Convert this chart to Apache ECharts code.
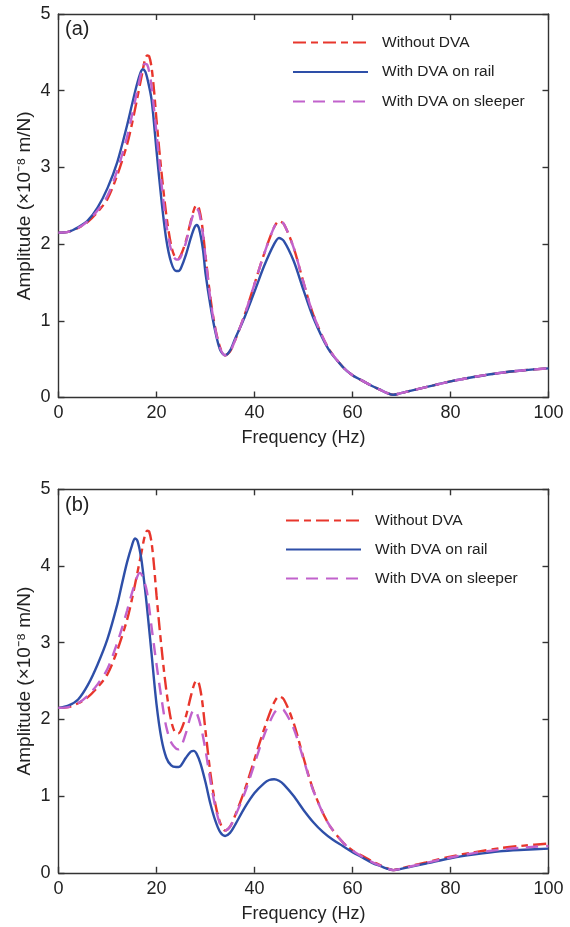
<!DOCTYPE html>
<html>
<head>
<meta charset="utf-8">
<script src="https://cdn.jsdelivr.net/npm/echarts@6/dist/echarts.min.js"></script>
<style>html,body{margin:0;padding:0;background:#fff}#c{width:570px;height:927px}</style>
</head>
<body>
<div id="c"></div>
<script>
// ---------- data (frequency Hz, amplitude x1e-8 m/N) ----------
const seriesNames = ['Without DVA', 'With DVA on rail', 'With DVA on sleeper'];
const xTicks = [0, 20, 40, 60, 80, 100];
const yTicks = [0, 1, 2, 3, 4, 5];

const withoutDVA = [[0,2.15],[2,2.16],[4,2.21],[6,2.29],[8,2.42],[10,2.59],[12,2.9],[14,3.3],[15,3.57],[16,3.88],[17,4.2],[17.6,4.39],[18.1,4.46],[18.5,4.45],[19,4.3],[19.5,4.0],[20,3.62],[21,2.95],[22,2.38],[23,1.98],[23.8,1.83],[24.5,1.82],[25,1.86],[26,2.04],[27,2.3],[27.7,2.46],[28.2,2.51],[28.7,2.46],[29.3,2.25],[30,1.85],[31,1.3],[32,0.9],[33,0.65],[34,0.55],[35,0.6],[36,0.74],[38,1.08],[40,1.48],[42,1.88],[44,2.22],[45,2.30],[46,2.26],[48,1.95],[50,1.5],[52,1.08],[55,0.65],[58,0.4],[60,0.29],[62,0.22],[64,0.15],[66,0.09],[67,0.06],[68.3,0.035],[69.5,0.05],[72,0.09],[75,0.135],[80,0.21],[85,0.27],[90,0.32],[95,0.355],[100,0.38]];

const railA = [[0,2.15],[2,2.16],[4,2.22],[6,2.31],[8,2.48],[10,2.73],[12,3.07],[14,3.55],[15,3.82],[16,4.08],[16.7,4.23],[17.2,4.28],[17.7,4.25],[18.2,4.14],[19,3.88],[20,3.22],[21,2.58],[22,2.06],[23,1.76],[24,1.65],[24.5,1.65],[25,1.69],[26,1.86],[27,2.08],[27.7,2.21],[28.2,2.25],[28.7,2.2],[29.5,1.92],[30,1.62],[31,1.2],[32,0.86],[33,0.62],[34,0.55],[35,0.61],[36,0.76],[38,1.05],[40,1.38],[42,1.72],[44,2.0],[45,2.08],[46,2.04],[48,1.78],[50,1.4],[52,1.04],[55,0.64],[58,0.4],[60,0.29],[62,0.22],[64,0.15],[66,0.09],[67,0.06],[68.3,0.035],[69.5,0.05],[72,0.09],[75,0.135],[80,0.21],[85,0.27],[90,0.32],[95,0.355],[100,0.38]];

const sleeperA = [[0,2.15],[2,2.16],[4,2.21],[6,2.3],[8,2.44],[10,2.63],[12,2.96],[14,3.4],[15,3.68],[16,3.98],[17,4.26],[17.6,4.35],[18.1,4.34],[18.6,4.22],[19,4.05],[20,3.45],[21,2.8],[22,2.26],[23,1.92],[24,1.8],[24.5,1.8],[25,1.84],[26,2.02],[27,2.28],[27.7,2.42],[28.2,2.46],[28.7,2.41],[29.5,2.12],[30,1.83],[31,1.28],[32,0.89],[33,0.64],[34,0.55],[35,0.6],[36,0.74],[38,1.08],[40,1.48],[42,1.88],[44,2.22],[45,2.30],[46,2.26],[48,1.95],[50,1.5],[52,1.08],[55,0.65],[58,0.4],[60,0.29],[62,0.22],[64,0.15],[66,0.09],[67,0.06],[68.3,0.035],[69.5,0.05],[72,0.09],[75,0.135],[80,0.21],[85,0.27],[90,0.32],[95,0.355],[100,0.38]];

const railB = [[0,2.15],[2,2.18],[4,2.26],[6,2.45],[8,2.72],[10,3.05],[12,3.5],[13,3.78],[14,4.05],[15,4.27],[15.6,4.36],[16.1,4.33],[16.6,4.2],[17,4.05],[18,3.5],[19,2.85],[20,2.2],[21,1.75],[22,1.5],[23,1.4],[24,1.38],[24.5,1.38],[25,1.4],[26,1.5],[27,1.58],[27.6,1.59],[28.2,1.55],[29,1.42],[30,1.18],[31,0.9],[32,0.68],[33,0.53],[34,0.48],[35,0.52],[36,0.62],[38,0.85],[40,1.04],[42,1.17],[43,1.21],[44,1.22],[45,1.2],[46,1.15],[48,1.0],[50,0.82],[52,0.66],[54,0.53],[56,0.43],[58,0.35],[60,0.27],[62,0.2],[64,0.13],[66,0.08],[67,0.055],[68.3,0.035],[69.5,0.045],[72,0.08],[75,0.12],[80,0.19],[85,0.24],[90,0.28],[95,0.3],[100,0.315]];

const sleeperB = [[0,2.15],[2,2.16],[4,2.21],[6,2.31],[8,2.46],[10,2.66],[12,3.0],[13,3.2],[14,3.42],[15,3.65],[16,3.85],[16.6,3.91],[17.1,3.87],[18,3.68],[19,3.2],[20,2.72],[21,2.28],[22,1.9],[23,1.7],[24,1.62],[24.5,1.61],[25,1.64],[26,1.82],[27,2.05],[27.6,2.12],[28.1,2.1],[29,1.92],[30,1.6],[31,1.2],[32,0.86],[33,0.63],[34,0.55],[35,0.6],[36,0.73],[38,1.04],[40,1.42],[42,1.8],[44,2.08],[45,2.14],[46,2.12],[48,1.88],[50,1.48],[52,1.07],[55,0.65],[58,0.4],[60,0.29],[62,0.21],[64,0.14],[66,0.085],[67,0.058],[68.3,0.035],[69.5,0.048],[72,0.085],[75,0.128],[80,0.2],[85,0.26],[90,0.3],[95,0.33],[100,0.35]];

const panelLabels = ['(a)', '(b)'];
const xName = 'Frequency (Hz)';
const yName = 'Amplitude (×10⁻⁸ m/N)';

// ---------- styling ----------
const FONT = "'Liberation Sans', Arial, Helvetica, sans-serif";
const AX = '#333333';
const colors = ['#E8362C', '#2E4FA8', '#C162CC'];
const dashes = [[13, 5, 7, 5], 'solid', [12, 8]];

const grids = [
  { left: 58.5, top: 14, width: 490, height: 383.5 },
  { left: 58.5, top: 489.3, width: 490, height: 383.5 }
];

const xAxes = [], yAxes = [];
grids.forEach((g, i) => {
  const common = { min: xTicks[0], max: xTicks[xTicks.length - 1], interval: xTicks[1] - xTicks[0], type: 'value', gridIndex: i,
    axisLine: { show: true, onZero: false, lineStyle: { color: AX, width: 1.4 } }, splitLine: { show: false },
    axisTick: { show: true, inside: true, length: 6, lineStyle: { color: AX, width: 1.4 } } };
  xAxes.push(Object.assign({}, common, { position: 'bottom', name: xName, nameLocation: 'middle', nameGap: 32,
    nameMoveOverlap: false,
    nameTextStyle: { fontFamily: FONT, fontSize: 18, color: '#222' },
    axisLabel: { fontFamily: FONT, fontSize: 18, color: '#222', margin: 7 } }));
  xAxes.push(Object.assign({}, common, { position: 'top', axisLabel: { show: false } }));
  const ycommon = { min: yTicks[0], max: yTicks[yTicks.length - 1], interval: yTicks[1] - yTicks[0], type: 'value', gridIndex: i,
    axisLine: { show: true, onZero: false, lineStyle: { color: AX, width: 1.4 } }, splitLine: { show: false },
    axisTick: { show: true, inside: true, length: 6, lineStyle: { color: AX, width: 1.4 } } };
  yAxes.push(Object.assign({}, ycommon, { position: 'left', name: yName, nameLocation: 'middle', nameGap: 24, nameRotate: 90,
    nameMoveOverlap: false,
    nameTextStyle: { fontFamily: FONT, fontSize: 19, color: '#222' },
    axisLabel: { fontFamily: FONT, fontSize: 18, color: '#222', margin: 8 } }));
  yAxes.push(Object.assign({}, ycommon, { position: 'right', axisLabel: { show: false } }));
});

const panelData = [[withoutDVA, railA, sleeperA], [withoutDVA, railB, sleeperB]];
const series = [];
panelData.forEach((sets, p) => {
  sets.forEach((d, k) => {
    series.push({
      name: seriesNames[k], type: 'line', data: d, xAxisIndex: p * 2, yAxisIndex: p * 2,
      smooth: 0.3, symbol: 'none', showSymbol: false, silent: true, animation: false,
      lineStyle: { color: colors[k], width: 2.4, type: dashes[k] }, itemStyle: { color: colors[k] },
      z: 2 + k
    });
  });
});

const legendCommon = {
  orient: 'vertical', itemWidth: 75, itemHeight: 14, itemGap: 13.5, padding: 0, data: seriesNames,
  itemStyle: { opacity: 0 },
  textStyle: { fontFamily: FONT, fontSize: 15.5, color: '#222', padding: [0, 0, 0, 9] },
  selectedMode: false
};

const option = {
  animation: false,
  backgroundColor: '#fff',
  grid: grids,
  xAxis: xAxes,
  yAxis: yAxes,
  series: series,
  legend: [
    Object.assign({}, legendCommon, { left: 292, top: 34.5 }),
    Object.assign({}, legendCommon, { left: 285, top: 512.5, itemGap: 13 })
  ],
  graphic: [
    { type: 'text', left: 65, top: 19, style: { text: panelLabels[0], font: '20px ' + FONT, fill: '#222' } },
    { type: 'text', left: 65, top: 495, style: { text: panelLabels[1], font: '20px ' + FONT, fill: '#222' } }
  ]
};

const chart = echarts.init(document.getElementById('c'), null, { renderer: 'canvas' });
chart.setOption(option);
</script>
</body>
</html>
